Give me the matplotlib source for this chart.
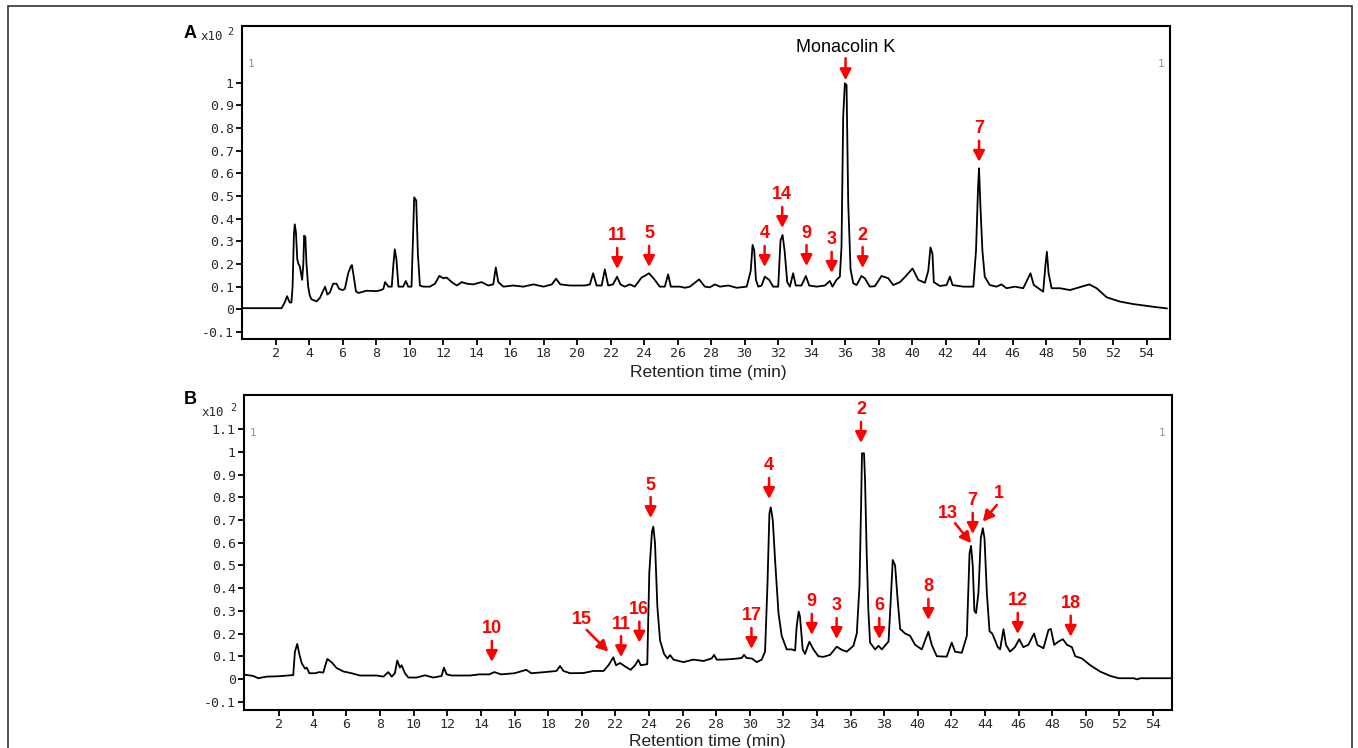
import numpy as np
import matplotlib
matplotlib.use("Agg")
from matplotlib import pyplot as plt
from matplotlib.patches import Rectangle

# chromatogram A (retention time in min, intensity x10^2)
time_A = [0, 2.36, 2.55, 2.69, 2.85, 2.95, 3.02, 3.1, 3.15, 3.22, 3.3, 3.37, 3.45, 3.52, 3.59, 3.66,
          3.71, 3.78, 3.85, 3.95, 4.05, 4.15, 4.45, 4.65, 4.8, 4.96, 5.1, 5.25, 5.44, 5.64, 5.8, 6.0,
          6.14, 6.34, 6.5, 6.56, 6.66, 6.8, 6.94, 7.44, 8.04, 8.3, 8.44, 8.54, 8.74, 8.94, 9.04, 9.12,
          9.22, 9.34, 9.62, 9.78, 9.92, 10.12, 10.2, 10.28, 10.4, 10.5, 10.62, 10.82, 11.22, 11.52,
          11.78, 12.02, 12.22, 12.52, 12.82, 13.12, 13.42, 13.8, 14.3, 14.7, 15.0, 15.15, 15.3, 15.6,
          16.2, 16.8, 17.4, 18.0, 18.5, 18.75, 19.0, 19.57, 20.47, 20.77, 20.96, 21.17, 21.47, 21.66,
          21.86, 22.15, 22.39, 22.59, 22.85, 23.15, 23.45, 23.85, 24.1, 24.3, 24.64, 24.94, 25.24,
          25.44, 25.6, 26.14, 26.44, 26.74, 27.29, 27.63, 27.93, 28.23, 28.53, 29.03, 29.53, 30.13,
          30.37, 30.48, 30.58, 30.68, 30.82, 31.02, 31.21, 31.47, 31.71, 32.01, 32.15, 32.27, 32.39,
          32.55, 32.71, 32.9, 33.06, 33.4, 33.66, 33.86, 34.3, 34.8, 35.09, 35.25, 35.49, 35.69, 35.79,
          35.89, 35.99, 36.09, 36.19, 36.33, 36.49, 36.69, 36.98, 37.18, 37.48, 37.78, 38.18, 38.58,
          38.88, 39.28, 39.6, 40.03, 40.37, 40.77, 40.97, 41.1, 41.22, 41.3, 41.66, 42.06, 42.26, 42.42,
          43.06, 43.66, 43.82, 43.94, 44.0, 44.08, 44.2, 44.34, 44.64, 45.04, 45.34, 45.64, 46.14,
          46.64, 47.07, 47.27, 47.83, 47.97, 48.05, 48.15, 48.33, 48.83, 49.43, 50.13, 50.58, 51.02,
          51.62, 52.42, 53.22, 54.42, 55.21]
signal_A = [0.005, 0.005, 0.03, 0.058, 0.03, 0.03, 0.10, 0.33, 0.375, 0.34, 0.22, 0.20, 0.19, 0.16, 0.13, 0.20,
            0.325, 0.32, 0.20, 0.10, 0.06, 0.044, 0.035, 0.05, 0.075, 0.10, 0.065, 0.075, 0.113, 0.113, 0.09, 0.085,
            0.09, 0.159, 0.19, 0.195, 0.15, 0.08, 0.072, 0.082, 0.08, 0.085, 0.09, 0.12, 0.10, 0.10, 0.2, 0.265,
            0.22, 0.10, 0.10, 0.125, 0.10, 0.10, 0.30, 0.494, 0.48, 0.245, 0.105, 0.10, 0.10, 0.113,
            0.147, 0.137, 0.14, 0.12, 0.105, 0.12, 0.113, 0.11, 0.12, 0.105, 0.11, 0.185, 0.12, 0.10,
            0.105, 0.10, 0.11, 0.10, 0.11, 0.135, 0.11, 0.105, 0.105, 0.11, 0.159, 0.105, 0.105, 0.176,
            0.105, 0.11, 0.144, 0.11, 0.10, 0.11, 0.10, 0.14, 0.15, 0.159, 0.13, 0.10, 0.10,
            0.154, 0.10, 0.10, 0.095, 0.10, 0.132, 0.10, 0.097, 0.11, 0.10, 0.105, 0.095, 0.10,
            0.17, 0.284, 0.26, 0.13, 0.10, 0.105, 0.144, 0.13, 0.10, 0.10, 0.305, 0.328, 0.26,
            0.12, 0.10, 0.159, 0.105, 0.105, 0.147, 0.105, 0.10, 0.105, 0.125, 0.10, 0.13, 0.144, 0.276,
            0.85, 0.997, 0.99, 0.47, 0.176, 0.115, 0.107, 0.147, 0.137, 0.10, 0.102, 0.147, 0.137,
            0.107, 0.12, 0.144, 0.18, 0.13, 0.117, 0.17, 0.273, 0.245, 0.12, 0.103, 0.107, 0.144, 0.107,
            0.10, 0.10, 0.26, 0.534, 0.622, 0.46, 0.26, 0.144, 0.107, 0.10, 0.11, 0.093, 0.10,
            0.093, 0.159, 0.107, 0.078, 0.20, 0.254, 0.16, 0.093, 0.093, 0.085, 0.10, 0.11, 0.093,
            0.053, 0.034, 0.023, 0.011, 0.004]

# chromatogram B
time_B = [0.0, 0.45, 0.75, 1.24, 2.04, 2.83, 2.93, 3.07, 3.19, 3.33, 3.53, 3.63, 3.79, 4.13, 4.38, 4.62,
          4.72, 4.86, 5.12, 5.41, 5.81, 6.3, 6.8, 7.79, 8.19, 8.49, 8.69, 8.88, 9.02, 9.18, 9.28, 9.48,
          9.68, 10.17, 10.67, 11.16, 11.66, 11.8, 11.96, 12.26, 13.35, 13.9, 14.5, 14.8, 15.2, 16.0,
          16.7, 17.0, 17.8, 18.5, 18.71, 18.91, 19.31, 20.1, 20.7, 21.3, 21.59, 21.88, 22.04, 22.28,
          22.58, 22.91, 23.17, 23.37, 23.51, 23.9, 24.02, 24.18, 24.26, 24.36, 24.5, 24.66, 24.9, 25.1,
          25.26, 25.46, 26.05, 26.65, 27.24, 27.73, 27.88, 28.03, 28.43, 29.02, 29.52, 29.66, 29.82,
          30.12, 30.42, 30.71, 30.91, 31.05, 31.17, 31.25, 31.37, 31.51, 31.71, 31.9, 32.2, 32.5, 32.7,
          32.79, 32.91, 32.99, 33.15, 33.29, 33.43, 33.55, 33.79, 34.08, 34.38, 34.78, 35.18, 35.48,
          35.77, 36.17, 36.37, 36.53, 36.63, 36.68, 36.8, 36.86, 36.96, 37.06, 37.16, 37.46, 37.66,
          37.86, 38.26, 38.4, 38.51, 38.65, 38.79, 38.95, 39.25, 39.54, 39.84, 40.24, 40.63, 40.83,
          41.13, 41.72, 42.02, 42.22, 42.62, 42.92, 43.08, 43.17, 43.27, 43.37, 43.47, 43.61, 43.75,
          43.87, 43.97, 44.11, 44.27, 44.43, 44.6, 44.76, 44.9, 45.1, 45.25, 45.49, 45.78, 46.04,
          46.28, 46.58, 46.92, 47.12, 47.48, 47.78, 47.92, 48.12, 48.38, 48.64, 48.88, 49.17, 49.37,
          49.77, 50.27, 50.86, 51.46, 51.96, 52.85, 53.05, 53.25, 55.04]
signal_B = [0.018, 0.013, 0.003, 0.01, 0.012, 0.017, 0.12, 0.154, 0.11, 0.07, 0.045, 0.05, 0.025, 0.025, 0.03, 0.028,
            0.055, 0.088, 0.073, 0.048, 0.033, 0.025, 0.015, 0.015, 0.01, 0.03, 0.01, 0.025, 0.081, 0.05, 0.06, 0.025,
            0.006, 0.006, 0.016, 0.006, 0.013, 0.05, 0.02, 0.015, 0.015, 0.02, 0.02, 0.03, 0.02, 0.025,
            0.04, 0.025, 0.03, 0.035, 0.057, 0.035, 0.025, 0.026, 0.035, 0.035, 0.06, 0.095, 0.06, 0.07,
            0.055, 0.04, 0.06, 0.084, 0.06, 0.065, 0.466, 0.649, 0.671, 0.60, 0.32, 0.17, 0.11, 0.09,
            0.105, 0.085, 0.074, 0.085, 0.079, 0.09, 0.106, 0.085, 0.085, 0.088, 0.092, 0.106, 0.092,
            0.09, 0.074, 0.085, 0.12, 0.407, 0.73, 0.756, 0.70, 0.52, 0.29, 0.19, 0.13, 0.13, 0.125,
            0.23, 0.297, 0.275, 0.13, 0.11, 0.14, 0.164, 0.13, 0.10, 0.097, 0.106, 0.142, 0.128,
            0.12, 0.146, 0.20, 0.41, 0.78, 0.994, 0.994, 0.88, 0.55, 0.30, 0.16, 0.13, 0.146,
            0.13, 0.165, 0.36, 0.524, 0.50, 0.36, 0.22, 0.20, 0.19, 0.15, 0.13, 0.208, 0.15,
            0.10, 0.098, 0.16, 0.12, 0.115, 0.19, 0.553, 0.586, 0.50, 0.30, 0.29, 0.38, 0.62,
            0.664, 0.62, 0.38, 0.21, 0.2, 0.17, 0.14, 0.13, 0.219, 0.15, 0.12, 0.14, 0.175,
            0.14, 0.15, 0.2, 0.15, 0.135, 0.216, 0.22, 0.15, 0.165, 0.175, 0.15, 0.14, 0.10,
            0.09, 0.06, 0.032, 0.013, 0.003, 0.003, -0.002, 0.003, 0.003]

# peak labels: text, arrow tip (time, intensity)
peaks_A = ["11", "5", "4", "14", "9", "3", "2", "7"]
tip_t_A = [22.4, 24.3, 31.2, 32.25, 33.7, 35.2, 37.05, 44.0]
tip_v_A = [0.178, 0.187, 0.187, 0.359, 0.191, 0.161, 0.182, 0.651]

peaks_B = ["10", "15", "11", "16", "5", "17", "4", "9", "3", "2", "6", "8", "13", "7", "1", "12", "18"]
tip_t_B = [14.65, 21.58, 22.34, 23.43, 24.1, 30.1, 31.15, 33.69, 35.17, 36.62, 37.71, 40.63, 43.17, 43.27, 43.87, 45.95, 49.1]
tip_v_B = [0.075, 0.12, 0.096, 0.16, 0.709, 0.132, 0.793, 0.194, 0.176, 1.04, 0.176, 0.26, 0.598, 0.639, 0.693, 0.198, 0.186]
# slanted arrows (tail offset px, text offset px)
slanted_B = {"15": ((-21.6, 21.7), (-26.6, 32.4)),
             "13": ((-16, 20), (-22.7, 29.3)),
             "1": ((14, 16.7), (16.3, 27.7))}

xticks = list(range(2, 55, 2))

W, H = 1358, 748
fig = plt.figure(figsize=(W / 100, H / 100), dpi=100)
fig.patches.append(Rectangle((8 / W, -0.05), 1344 / W, 1.05 - 6 / H, transform=fig.transFigure,
                             fill=False, edgecolor='#333333', linewidth=1.2))

mono = 'DejaVu Sans Mono'
sans = 'Liberation Sans'


def box(l, t, r, b):
    return [l / W, 1 - b / H, (r - l) / W, (b - t) / H]


def arrow(ax, label, t, v, tail=(0, 21), txt=(0, 33), tcolor='red', bold=True, size=13):
    ax.annotate('', xy=(t, v), xytext=tail, textcoords='offset pixels',
                arrowprops=dict(arrowstyle='-|>,head_length=0.65,head_width=0.34', color='red',
                                lw=1.8, shrinkA=0, shrinkB=0, mutation_scale=10))
    ax.annotate(label, xy=(t, v), xytext=txt, textcoords='offset pixels', ha='center', va='center',
                color=tcolor, fontsize=size, fontweight='bold' if bold else 'normal', family=sans)


def style(ax, ylim, yticks, ylabels, xlim):
    ax.set_xlim(*xlim)
    ax.set_ylim(*ylim)
    ax.set_xticks(xticks)
    ax.set_xticklabels([str(x) for x in xticks], family=mono, fontsize=9.5, color='#2b2b2b')
    ax.set_yticks(yticks)
    ax.set_yticklabels(ylabels, family=mono, fontsize=9.5, color='#2b2b2b')
    ax.tick_params(direction='out', length=4, width=1.3, pad=2)
    for s in ax.spines.values():
        s.set_linewidth(1.5)
        s.set_color('black')
    ax.text(0.006, 0.87, '1', transform=ax.transAxes, family=mono, fontsize=8, color='#9a9080')
    ax.text(0.994, 0.87, '1', transform=ax.transAxes, family=mono, fontsize=8, color='#9a9080', ha='right')


axA = fig.add_axes(box(242, 26, 1170, 339))
axA.plot(time_A, signal_A, color='black', lw=1.3)
yt_A = [-0.1, 0, 0.1, 0.2, 0.3, 0.4, 0.5, 0.6, 0.7, 0.8, 0.9, 1.0]
yl_A = ['-0.1', '0', '0.1', '0.2', '0.3', '0.4', '0.5', '0.6', '0.7', '0.8', '0.9', '1']
style(axA, (-0.131, 1.25), yt_A, yl_A, (0, 55.4))
axA.set_xlabel('Retention time (min)', family=sans, fontsize=12.5, color='#222222')
axA.xaxis.set_label_coords(0.502, -0.083)
for lab, t, v in zip(peaks_A, tip_t_A, tip_v_A):
    arrow(axA, lab, t, v)
arrow(axA, 'Monacolin K', 36.03, 1.011, tail=(0, 22), txt=(0, 33), tcolor='black', bold=False, size=13)

axB = fig.add_axes(box(244, 395, 1171.5, 710))
axB.plot(time_B, signal_B, color='black', lw=1.3)
yt_B = yt_A + [1.1]
yl_B = yl_A + ['1.1']
style(axB, (-0.137, 1.251), yt_B, yl_B, (-0.1, 55.1))
axB.set_xlabel('Retention time (min)', family=sans, fontsize=12.5, color='#222222')
axB.xaxis.set_label_coords(0.499, -0.076)
for lab, t, v in zip(peaks_B, tip_t_B, tip_v_B):
    if lab in slanted_B and not (lab == "1" and t < 40):
        tail, txt = slanted_B[lab]
        arrow(axB, lab, t, v, tail=tail, txt=txt)
    else:
        arrow(axB, lab, t, v)

# panel letters and scale factor
fig.text(190 / W, 1 - 34 / H, 'A', family=sans, fontsize=13, fontweight='bold', ha='center', va='center')
fig.text(212 / W, 1 - 36 / H, 'x10', family=mono, fontsize=9, color='#2b2b2b', ha='center', va='center')
fig.text(230 / W, 1 - 32 / H, '2', family=mono, fontsize=7.5, color='#2b2b2b', ha='center', va='center')
fig.text(190 / W, 1 - 399 / H, 'B', family=sans, fontsize=13, fontweight='bold', ha='center', va='center')
fig.text(213 / W, 1 - 412 / H, 'x10', family=mono, fontsize=9, color='#2b2b2b', ha='center', va='center')
fig.text(233 / W, 1 - 408 / H, '2', family=mono, fontsize=7.5, color='#2b2b2b', ha='center', va='center')

fig.savefig('out.png', dpi=100)
